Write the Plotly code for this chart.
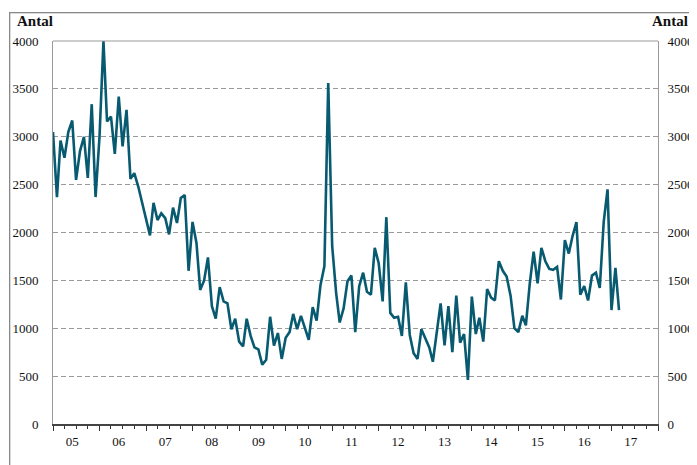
import plotly.graph_objects as go
import pandas as pd

start_month = "2005-01-01"
values = [
    3050, 2370, 2960, 2780, 3050, 3170, 2550, 2850, 3000, 2570, 3340, 2370,
    3000, 4000, 3160, 3210, 2820, 3420, 2900, 3280, 2560, 2620, 2480, 2310,
    2120, 1970, 2310, 2130, 2200, 2150, 1980, 2260, 2100, 2360, 2390, 1600,
    2110, 1890, 1400, 1500, 1740, 1230, 1100, 1430, 1280, 1260, 990, 1100,
    860, 810, 1100, 920, 800, 780, 620, 670, 1120, 820, 950, 680,
    900, 960, 1150, 990, 1130, 1010, 880, 1220, 1080, 1450, 1650, 3560,
    1860, 1370, 1060, 1210, 1490, 1550, 960, 1440, 1580, 1380, 1350, 1840,
    1680, 1280, 2160, 1160, 1110, 1120, 920, 1480, 930, 740, 680, 990,
    900, 800, 650, 950, 1260, 820, 1230, 750, 1340, 850, 940, 460,
    1330, 940, 1110, 860, 1410, 1320, 1290, 1700, 1600, 1540, 1340, 1000,
    960, 1130, 1030, 1470, 1800, 1470, 1840, 1700, 1620, 1610, 1640, 1300,
    1920, 1780, 1960, 2110, 1350, 1440, 1290, 1550, 1580, 1420, 2110, 2450,
    1190, 1630, 1190,
]
dates = pd.date_range(start_month, periods=len(values), freq="MS")
y_ticks = [0, 500, 1000, 1500, 2000, 2500, 3000, 3500, 4000]
y_label = "Antal"

FONT = "Liberation Serif"
W, H = 697, 465
OFF = 8  # page body margin offset
L, T = 53 - OFF, 41 - OFF
PW, PH = 605, 383
R, B = W - L - PW, H - T - PH

def px(page_x):
    return (page_x - OFF - L) / PW

def py(page_y):
    return (T + PH - (page_y - OFF)) / PH

fig = go.Figure()
fig.add_trace(go.Scatter(x=dates, y=values, mode="lines",
                         line=dict(color="#085a70", width=2.6),
                         showlegend=False, hoverinfo="skip"))
fig.add_trace(go.Scatter(x=dates, y=values, mode="lines", yaxis="y2",
                         line=dict(color="rgba(0,0,0,0)", width=0),
                         showlegend=False, hoverinfo="skip"))

fig.update_layout(
    width=W, height=H,
    margin=dict(l=L, r=R, t=T, b=B, autoexpand=False),
    paper_bgcolor="white", plot_bgcolor="white",
    font=dict(family=FONT, size=13, color="#111"),
    xaxis=dict(
        type="date", range=["2005-01-01", "2018-01-01"],
        tick0="2005-01-01", dtick="M12", tickformat="%y",
        ticklabelmode="period", ticks="outside", ticklen=5, tickwidth=1,
        tickcolor="#333", showline=True, linecolor="#444", linewidth=1.5,
        showgrid=False, zeroline=False, automargin=False, ticklabelshift=-4,
        minor=dict(dtick="M3", ticks="outside", ticklen=3, tickcolor="#333", showgrid=False),
        tickfont=dict(family=FONT, size=13),
    ),
    yaxis=dict(
        range=[0, 4000], tickvals=y_ticks, ticks="", automargin=False,
        showline=True, linecolor="#999", linewidth=1,
        showgrid=True, gridcolor="#9a9a9a", griddash="5px,3px", gridwidth=1,
        zeroline=False, ticklabelstandoff=11,
        tickfont=dict(family=FONT, size=13),
    ),
    yaxis2=dict(
        range=[0, 4000], tickvals=y_ticks, overlaying="y", side="right",
        showline=True, linecolor="#999", linewidth=1, showgrid=False,
        zeroline=False, ticks="", ticklabelstandoff=6, automargin=False,
        tickfont=dict(family=FONT, size=13),
    ),
    shapes=[
        dict(type="line", xref="paper", yref="paper", x0=0, x1=1, y0=1, y1=1,
             line=dict(color="#999", width=1)),
    ],
    annotations=[
        dict(text=" ", xref="paper", yref="paper",
             x=px(8.5), y=py(12), xanchor="left", yanchor="top",
             width=740, height=500, showarrow=False, align="left",
             bordercolor="#888", borderwidth=1.3, borderpad=0),
        dict(text="<b>" + y_label + "</b>", xref="paper", yref="paper",
             x=px(15), y=py(21), xanchor="left", yanchor="middle", showarrow=False,
             font=dict(family=FONT, size=15, color="#111")),
        dict(text="<b>" + y_label + "</b>", xref="paper", yref="paper",
             x=px(690), y=py(21), xanchor="right", yanchor="middle", showarrow=False,
             font=dict(family=FONT, size=15, color="#111")),
    ],
)

fig.write_html("out.html")
